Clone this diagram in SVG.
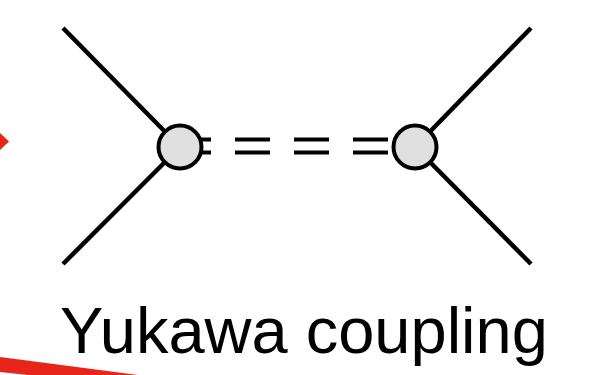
<svg xmlns="http://www.w3.org/2000/svg" width="591" height="375" viewBox="0 0 591 375">
<style>
.leg{stroke:#000;stroke-width:4.5;fill:none}
.scalar{stroke:#000;stroke-width:4;fill:none;stroke-dasharray:35 24}
.vertex{fill:#e0e0e0;stroke:#000;stroke-width:4}
.red{fill:#e8251a}
.lbl{font-family:"Liberation Sans",Arial,sans-serif;font-size:65px;fill:#000}
</style>
<rect width="591" height="375" fill="#fff"/>
<g id="decor">
<polygon class="red" points="0,133 9,141.5 0,150"/>
<polygon class="red" points="0,357 138,375 28,375 0,372"/>
</g>
<g id="connectors">
<line class="leg" x1="63" y1="28" x2="180" y2="147"/>
<line class="leg" x1="63" y1="264" x2="180" y2="147"/>
<line class="leg" x1="531" y1="28" x2="415" y2="147"/>
<line class="leg" x1="531" y1="264" x2="415" y2="147"/>
<line class="scalar" x1="176" y1="139.5" x2="400" y2="139.5"/>
<line class="scalar" x1="176" y1="152.5" x2="400" y2="152.5"/>
</g>
<g id="vertex-left"><circle class="vertex" cx="180" cy="147" r="21.5"/></g>
<g id="vertex-right"><circle class="vertex" cx="415" cy="147" r="21.5"/></g>
<g id="label"><text class="lbl" x="60" y="353">Yukawa coupling</text></g>
</svg>
